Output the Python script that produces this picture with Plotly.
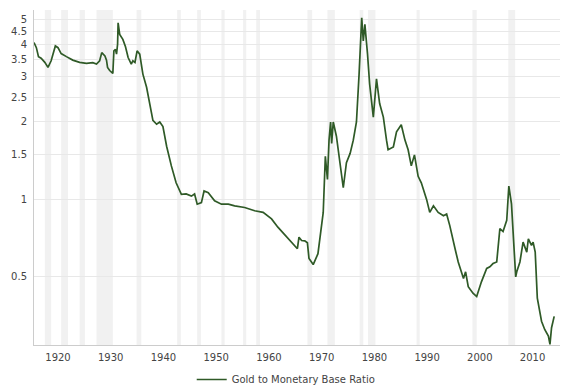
import plotly.graph_objects as go
import math

years = [1915.45, 1915.9, 1916.3, 1916.8, 1917.5, 1918.1, 1918.7, 1919.5, 1920.0, 1920.6,
         1921.6, 1922.8, 1924.1, 1925.4, 1926.6, 1927.3, 1927.9, 1928.3, 1928.9, 1929.2,
         1929.4, 1929.8, 1930.4, 1930.6, 1930.9, 1931.1, 1931.3, 1931.4, 1931.7, 1932.3,
         1932.8, 1933.3, 1933.9, 1934.2, 1934.6, 1935.0, 1935.5, 1936.1, 1936.8, 1937.4,
         1938.0, 1938.7, 1939.3, 1939.9, 1940.6, 1941.5, 1942.4, 1943.4, 1944.3, 1945.3,
         1945.9, 1946.4, 1947.2, 1947.7, 1948.5, 1949.7, 1951.0, 1952.3, 1953.5, 1955.4,
         1957.3, 1958.9, 1960.5, 1961.7, 1963.6, 1965.4, 1965.7, 1966.2, 1966.8, 1967.3,
         1967.6, 1968.4, 1969.3, 1970.0, 1970.3, 1970.7, 1971.1, 1971.4, 1971.7, 1971.9,
         1972.2, 1972.8, 1973.5, 1974.1, 1974.7, 1975.4, 1976.0, 1976.6, 1977.1, 1977.6,
         1977.9, 1978.2, 1978.7, 1979.1, 1979.8, 1980.4, 1981.0, 1981.7, 1982.3, 1982.6,
         1983.6, 1984.2, 1985.1, 1985.8, 1986.4, 1987.0, 1987.6, 1988.3, 1988.9, 1989.9,
         1990.5, 1991.2, 1992.1, 1993.1, 1993.7, 1994.3, 1995.3, 1995.9, 1996.9, 1997.3,
         1997.8, 1998.7, 1999.4, 2000.3, 2001.3, 2001.9, 2002.5, 2003.2, 2003.8, 2004.4,
         2005.1, 2005.5, 2006.0, 2006.5, 2006.8, 2007.0, 2007.6, 2008.2, 2008.9, 2009.2,
         2009.8, 2010.1, 2010.5, 2010.9, 2011.7, 2012.3, 2013.0, 2013.3, 2013.6, 2014.1]

ratio = [4.07, 3.89, 3.59, 3.54, 3.41, 3.26, 3.46, 3.95, 3.89, 3.69,
         3.59, 3.48, 3.41, 3.38, 3.40, 3.36, 3.46, 3.72, 3.61, 3.48,
         3.26, 3.17, 3.09, 3.78, 3.83, 3.67, 4.01, 4.86, 4.38, 4.19,
         3.92, 3.56, 3.36, 3.46, 3.41, 3.78, 3.67, 3.07, 2.73, 2.36,
         2.03, 1.96, 2.00, 1.92, 1.61, 1.35, 1.16, 1.047, 1.05, 1.03,
         1.05, 0.958, 0.972, 1.078, 1.062, 0.987, 0.958, 0.958, 0.944, 0.930,
         0.903, 0.89, 0.84, 0.78, 0.703, 0.643, 0.713, 0.692, 0.69, 0.678,
         0.589, 0.558, 0.615, 0.814, 0.89, 1.47, 1.196, 1.70, 2.00, 1.65,
         2.00, 1.76, 1.39, 1.11, 1.39, 1.51, 1.70, 2.00, 3.07, 5.08,
         4.13, 4.79, 3.67, 2.81, 2.09, 2.94, 2.36, 2.09, 1.70, 1.56,
         1.60, 1.83, 1.95, 1.70, 1.56, 1.35, 1.49, 1.23, 1.16, 1.00,
         0.89, 0.944, 0.89, 0.864, 0.877, 0.791, 0.643, 0.571, 0.493, 0.523,
         0.458, 0.432, 0.419, 0.478, 0.539, 0.547, 0.563, 0.571, 0.77, 0.75,
         0.83, 1.127, 0.96, 0.589, 0.50, 0.523, 0.571, 0.682, 0.624, 0.703,
         0.663, 0.682, 0.624, 0.413, 0.336, 0.312, 0.294, 0.273, 0.317, 0.351]

# Shaded bands (start, end) as seen on the chart
band_start = [1917.5, 1920.6, 1924.1, 1927.3, 1934.9, 1942.6, 1946.4, 1951.0, 1955.1, 1957.6,
              1967.3, 1971.1, 1977.2, 1978.8, 1988.0, 1998.6, 2005.4]
band_end = [1918.7, 1921.9, 1925.1, 1930.4, 1935.8, 1943.3, 1947.1, 1951.6, 1955.7, 1958.3,
            1968.2, 1972.5, 1977.9, 1980.2, 1988.6, 1999.4, 2006.7]

y_ticks = [0.5, 1, 1.5, 2, 2.5, 3, 3.5, 4, 4.5, 5]
y_tick_labels = ["0.5", "1", "1.5", "2", "2.5", "3", "3.5", "4", "4.5", "5"]
x_ticks = [1920, 1930, 1940, 1950, 1960, 1970, 1980, 1990, 2000, 2010]
x_tick_labels = [str(v) for v in x_ticks]

fig = go.Figure()
fig.add_trace(go.Scatter(
    x=years, y=ratio, mode="lines", name="Gold to Monetary Base Ratio",
    line=dict(color="#2f5a27", width=1.7),
))

for s, e in zip(band_start, band_end):
    fig.add_shape(type="rect", xref="x", yref="paper", x0=s, x1=e, y0=0, y1=1,
                  fillcolor="#f1f1f1", line=dict(width=0), layer="below")

fig.update_layout(
    width=568, height=388,
    margin=dict(l=26, r=11, t=2, b=47),
    paper_bgcolor="white", plot_bgcolor="white",
    font=dict(family="DejaVu Sans", size=10, color="#444444"),
    showlegend=True,
    legend=dict(orientation="h", x=0.475, xanchor="center", y=-0.103, yanchor="middle",
                font=dict(size=10, color="#444444"), bgcolor="rgba(0,0,0,0)"),
)
fig.update_xaxes(
    range=[1915.45, 2016.15], tickvals=x_ticks, ticktext=x_tick_labels,
    showgrid=False, zeroline=False, showline=True, linecolor="#cccccc", linewidth=1,
    ticks="", ticklabelstandoff=3,
)
fig.update_yaxes(
    type="log", range=[math.log10(0.2716), math.log10(5.45)],
    tickvals=y_ticks, ticktext=y_tick_labels,
    showgrid=True, gridcolor="#e8e8e8", gridwidth=1, zeroline=False,
    showline=True, linecolor="#cccccc", linewidth=1, mirror=True,
    ticks="", ticklabelstandoff=4,
)

fig.write_html("out.html")
